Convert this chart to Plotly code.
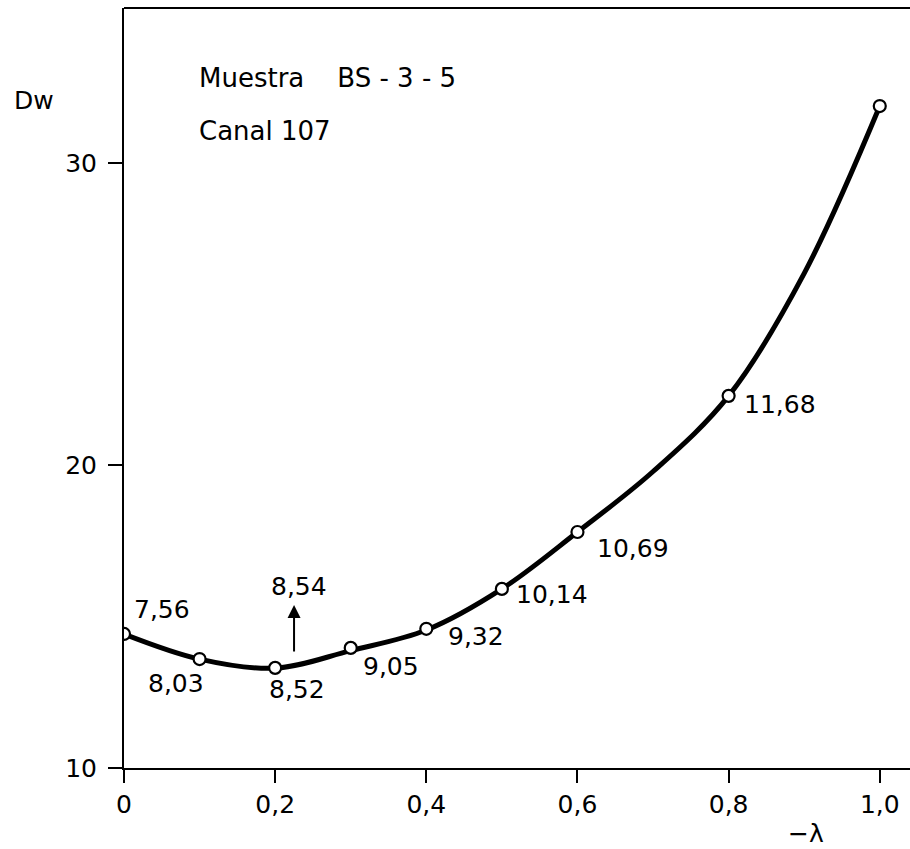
import plotly.graph_objects as go

# Dw as a function of -lambda (measured points)
lam = [0.0, 0.1, 0.2, 0.3, 0.4, 0.5, 0.6, 0.8, 1.0]
dw = [14.43, 13.60, 13.31, 13.97, 14.60, 15.92, 17.80, 22.30, 31.88]

# smooth curve drawn through the points (includes intermediate readings)
curve_lam = [0.0, 0.1, 0.2, 0.3, 0.4, 0.5, 0.6, 0.7, 0.8, 0.9, 1.0]
curve_dw = [14.43, 13.60, 13.30, 13.88, 14.56, 15.92, 17.80, 19.80, 22.30,
            26.35, 31.88]

# values written beside each point (no label on the last one)
point_labels = ["7,56", "8,03", "8,52", "9,05", "9,32", "10,14", "10,69", "11,68", ""]
# pixel offsets of each label from its point
label_dx = [38, -24, 22, 40, 50, 50, 56, 51, 0]
label_dy = [24, -24, -22, -19, -8, -6, -16, -9, 0]

# arrowed value near the minimum
min_lam = 0.225
min_dw = 15.39
min_label = "8,54"

x_ticks = [0.0, 0.2, 0.4, 0.6, 0.8, 1.0]
x_ticktext = ["0", "0,2", "0,4", "0,6", "0,8", "1,0"]
y_ticks = [10, 20, 30]

FONT = "DejaVu Sans"
FS = 25
NB = "\u00a0"

fig = go.Figure()
fig.add_trace(go.Scatter(
    x=curve_lam, y=curve_dw, mode="lines",
    line=dict(color="black", width=5, shape="spline", smoothing=1.0),
    hoverinfo="skip", showlegend=False,
))
fig.add_trace(go.Scatter(
    x=lam, y=dw, mode="markers",
    marker=dict(symbol="circle", size=12, color="white",
                line=dict(color="black", width=2.2)),
    showlegend=False,
))

annotations = []
for x, y, t, dx, dy in zip(lam, dw, point_labels, label_dx, label_dy):
    if t:
        annotations.append(dict(x=x, y=y, text=t, showarrow=False,
                                xshift=dx, yshift=dy,
                                font=dict(family=FONT, size=FS, color="black")))

# arrow pointing up to the minimum value
annotations.append(dict(x=min_lam, y=min_dw, text="", showarrow=True,
                        ax=0, ay=48, axref="pixel", ayref="pixel",
                        arrowhead=2, arrowsize=1.3, arrowwidth=2,
                        arrowcolor="black"))
annotations.append(dict(x=min_lam, y=min_dw, text=min_label, showarrow=False,
                        xshift=5, yshift=18,
                        font=dict(family=FONT, size=FS, color="black")))

# titles and axis names, placed in page pixels
W, H = 910, 849
L, R, T, B = 124, 0, 8, 81
pw, ph = W - L - R, H - T - B
page_text = [
    (197, 78, "left", 26,
     "Muestra" + NB * 4 + "BS" + NB + "-" + NB + "3" + NB + "-" + NB + "5"),
    (197, 131, "left", 26, "Canal" + NB + "107"),
    (12, 100, "left", 25, "Dw"),
    (806, 833, "center", 25, "\u2212\u03bb"),
]
for px, py, anchor, fs, t in page_text:
    annotations.append(dict(
        xref="paper", yref="paper",
        x=(px - L) / pw, y=(H - B - py) / ph,
        xanchor=anchor, yanchor="middle", text=t, showarrow=False,
        font=dict(family=FONT, size=fs, color="black")))

fig.update_layout(
    width=W, height=H,
    margin=dict(l=L, r=R, t=T, b=B),
    paper_bgcolor="white", plot_bgcolor="white",
    annotations=annotations,
    shapes=[dict(type="line", xref="paper", yref="paper",
                 x0=0, x1=1, y0=1, y1=1,
                 line=dict(color="black", width=2))],
    font=dict(family=FONT, size=FS, color="black"),
)
fig.update_xaxes(
    range=[0, 1.04], tickvals=x_ticks, ticktext=x_ticktext,
    ticks="outside", ticklen=13, tickwidth=2, tickcolor="black",
    showline=True, linecolor="black", linewidth=2,
    showgrid=False, zeroline=False,
    tickfont=dict(family=FONT, size=FS, color="black"),
)
fig.update_yaxes(
    range=[10, 35.12], tickvals=y_ticks,
    ticks="outside", ticklen=14, tickwidth=2, tickcolor="black",
    ticklabelstandoff=6,
    showline=True, linecolor="black", linewidth=2,
    showgrid=False, zeroline=False,
    tickfont=dict(family=FONT, size=FS, color="black"),
)

fig.write_html("out.html")
